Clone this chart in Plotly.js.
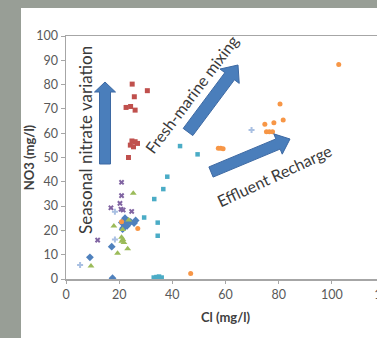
<!DOCTYPE html>
<html><head><meta charset="utf-8">
<script src="https://cdn.plot.ly/plotly-3.0.1.min.js"></script>
<style>
html,body{margin:0;padding:0;width:377px;height:338px;overflow:hidden;background:#989e96;}
#chart{position:absolute;left:21px;top:8px;width:384px;height:330px;background:#fff;overflow:hidden;}
</style></head><body>
<div id="chart"></div>
<script>
// Series data (Cl mg/l, NO3 mg/l)
const blueX = [9.0,17.2,17.5,21.6,21.3,21.0,22.2,23.2,24.3,25.6,22.6,26.2,23.0];
const blueY = [8.9,13.3,0.3,21.1,20.5,23.2,25.0,24.0,23.5,23.0,22.2,24.1,21.9];
const redX = [24.9,30.6,25.7,22.6,24.3,26.0,24.8,26.0,24.2,25.4,26.9,23.5];
const redY = [80.2,77.5,75.0,70.6,71.0,69.5,56.8,56.5,55.1,54.4,55.8,50.0];
const greenX = [9.4,25.3,18.0,23.6,21.3,20.9,21.4,21.0,21.8,23.2,19.4];
const greenY = [5.3,35.3,21.8,24.3,20.4,17.2,16.3,15.5,15.0,12.4,10.6];
const purpleX = [20.9,20.9,20.3,16.9,20.7,21.5,24.7,11.9];
const purpleY = [39.8,34.3,31.1,29.3,28.7,28.4,27.8,16.0];
const cyanX = [42.9,49.5,38.1,36.6,33.2,29.4,34.5,34.5,33.0,34.0,35.0,36.0,34.5];
const cyanY = [54.7,51.3,42.1,37.0,32.9,25.3,23.2,17.8,0.6,0.8,1.0,0.6,0.4];
const orangeX = [102.6,80.5,74.8,78.2,81.7,75.4,76.5,77.7,57.3,58.2,59.1,46.9,27.0,20.9];
const orangeY = [88.3,72.0,63.7,64.3,65.4,60.6,60.6,60.6,53.8,53.8,53.6,2.3,20.8,23.6];
const lightX = [5.3,18.4,18.4,69.8];
const lightY = [5.8,16.3,27.7,61.3];
const xTicks = [0,20,40,60,80,100,120];
const yTicks = [0,10,20,30,40,50,60,70,80,90,100];

// full x range 0-120; the figure is wider than the window, right part is cropped
const FIG_W = 384;

// page-pixel to data helpers for decorations (arrows / labels)
const X0 = 66, X1 = 385, Y0 = 279, Y1 = 36;
const px2x = p => (p - X0) * 120 / (X1 - X0);
const py2y = p => (Y0 - p) * 100 / (Y0 - Y1);

function blockArrow(T, P, w, h, L) {
  const dx = P[0]-T[0], dy = P[1]-T[1], len = Math.hypot(dx, dy);
  const d = [dx/len, dy/len], n = [-d[1], d[0]];
  const B = [P[0]-d[0]*L, P[1]-d[1]*L];
  const pts = [
    [T[0]+n[0]*w, T[1]+n[1]*w], [B[0]+n[0]*w, B[1]+n[1]*w], [B[0]+n[0]*h, B[1]+n[1]*h],
    P, [B[0]-n[0]*h, B[1]-n[1]*h], [B[0]-n[0]*w, B[1]-n[1]*w], [T[0]-n[0]*w, T[1]-n[1]*w]];
  return {type:'path', xref:'x', yref:'y',
    path: 'M' + pts.map(p => px2x(p[0]).toFixed(3) + ',' + py2y(p[1]).toFixed(3)).join(' L') + ' Z',
    fillcolor:'#4a7ebb', line:{color:'#3d69a3', width:1}, layer:'above'};
}

function series(x, y, color, symbol, size) {
  return {x, y, type:'scatter', mode:'markers', hoverinfo:'skip',
    marker:{color, symbol, size, line:{width:0}}};
}

const data = [
  series(lightX, lightY, '#a9c0e2', 'cross', 5),
  series(blueX, blueY, '#4f81bd', 'diamond', 6),
  series(redX, redY, '#c0504d', 'square', 5),
  series(greenX, greenY, '#9bbb59', 'triangle-up', 6),
  series(purpleX, purpleY, '#8064a2', 'x', 5),
  series(cyanX, cyanY, '#4bacc6', 'square', 4.5),
  series(orangeX, orangeY, '#f79646', 'circle', 5)
];

const FAM = 'Lato, "Open Sans", sans-serif';
const txtFont = {family:FAM, size:16, color:'#3a3a3a'};
const tickFont = {family:FAM, size:12.5, color:'#595959'};
const layout = {
  width:FIG_W, height:330,
  margin:{l:45, r:20, t:28, b:59},
  paper_bgcolor:'#ffffff', plot_bgcolor:'#ffffff',
  showlegend:false,
  font:{family:FAM, color:'#595959'},
  xaxis:{range:[0,120], tickvals:xTicks, showgrid:false, zeroline:false,
    showline:true, linecolor:'#a6a6a6', linewidth:1.5, mirror:true,
    ticks:'outside', ticklen:3, tickcolor:'#a6a6a6', tickfont:tickFont,
    title:{text:'<b>Cl (mg/l)</b>', font:{family:FAM, size:13, color:'#404040'}, standoff:12}},
  yaxis:{range:[0,100], tickvals:yTicks, showgrid:false, zeroline:false,
    showline:true, linecolor:'#a6a6a6', linewidth:1.5, mirror:false,
    ticks:'outside', ticklen:4, tickcolor:'#a6a6a6', tickfont:tickFont,
    title:{text:'<b>NO3 (mg/l)</b>', font:{family:FAM, size:13, color:'#404040'}, standoff:2}},
  shapes:[
    blockArrow([105,164],[105,82],5.5,10.5,10),
    blockArrow([188,132],[238,65],6,12,14),
    blockArrow([211,172],[290,139],5.5,11,13)
  ],
  annotations:[
    {text:'Seasonal nitrate variation', x:px2x(85), y:py2y(140), xref:'x', yref:'y', showarrow:false,
      textangle:-90, font:Object.assign({}, txtFont, {size:17}), xanchor:'center', yanchor:'middle'},
    {text:'Fresh-marine mixing', x:px2x(191), y:py2y(94), xref:'x', yref:'y', showarrow:false,
      textangle:-53, font:txtFont, xanchor:'center', yanchor:'middle'},
    {text:'Effluent Recharge', x:px2x(274), y:py2y(175), xref:'x', yref:'y', showarrow:false,
      textangle:-25, font:txtFont, xanchor:'center', yanchor:'middle'}
  ]
};
Plotly.newPlot('chart', data, layout, {staticPlot:true, displayModeBar:false});
</script></body></html>
